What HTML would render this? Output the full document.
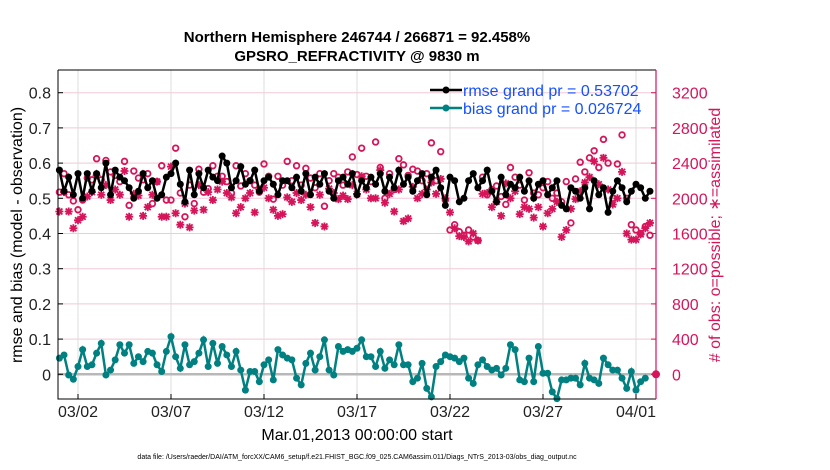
<!DOCTYPE html>
<html><head><meta charset="utf-8">
<style>
body{margin:0;background:#fff;}
svg{display:block;font-family:"Liberation Sans",sans-serif;}
</style></head>
<body>
<svg id="chart" width="830" height="470" viewBox="0 0 830 470" xmlns="http://www.w3.org/2000/svg">
<g id="grid"></g>
<g id="series"></g>
<g id="axes"></g>
<text x="357" y="42" text-anchor="middle" font-size="15" font-weight="bold">Northern Hemisphere 246744 / 266871 = 92.458%</text>
<text x="357" y="61" text-anchor="middle" font-size="15" font-weight="bold">GPSRO_REFRACTIVITY @ 9830 m</text>
<text transform="translate(22,235) rotate(-90)" text-anchor="middle" font-size="16">rmse and bias (model - observation)</text>
<text transform="translate(720,235) rotate(-90)" text-anchor="middle" font-size="16" fill="#d6145a"># of obs: o=possible; ∗=assimilated</text>
<text x="357" y="440" text-anchor="middle" font-size="16">Mar.01,2013 00:00:00 start</text>
<text x="357" y="459" text-anchor="middle" font-size="7">data file: /Users/raeder/DAI/ATM_forcXX/CAM6_setup/f.e21.FHIST_BGC.f09_025.CAM6assim.011/Diags_NTrS_2013-03/obs_diag_output.nc</text>
<g>
<line x1="430" y1="90" x2="462" y2="90" stroke="#000" stroke-width="2.5"/>
<circle cx="446" cy="90" r="3.5" fill="#000"/>
<text x="463" y="96" font-size="16" fill="#1450ff">rmse grand pr = 0.53702</text>
<line x1="430" y1="108" x2="462" y2="108" stroke="#008080" stroke-width="2.5"/>
<circle cx="446" cy="108" r="3.5" fill="#008080"/>
<text x="463" y="114" font-size="16" fill="#1450ff">bias grand pr = 0.026724</text>
</g>
</svg>
<script>
const rmse=[0.58,0.52,0.56,0.51,0.57,0.50,0.57,0.52,0.57,0.53,0.60,0.51,0.58,0.56,0.55,0.53,0.50,0.52,0.57,0.53,0.55,0.50,0.51,0.56,0.57,0.60,0.54,0.49,0.58,0.51,0.57,0.53,0.58,0.56,0.55,0.62,0.60,0.53,0.55,0.59,0.54,0.55,0.58,0.52,0.55,
0.56,0.54,0.51,0.55,0.55,0.53,0.56,0.52,0.57,0.51,0.56,0.54,0.57,0.52,0.50,0.55,0.56,0.54,0.57,0.51,0.55,0.53,0.56,0.54,0.57,0.52,0.56,0.53,0.58,0.54,0.56,0.52,0.55,0.57,0.51,0.56,0.58,0.53,0.48,0.56,0.55,0.49,0.50,0.55,0.57,0.53,
0.55,0.58,0.52,0.49,0.56,0.51,0.54,0.53,0.56,0.52,0.55,0.50,0.54,0.55,0.51,0.53,0.55,0.48,0.47,0.53,0.52,0.50,0.53,0.47,0.55,0.51,0.53,0.46,0.52,0.55,0.53,0.49,0.52,0.54,0.53,0.50,0.52];
const bias=[0.046,0.055,-0.002,-0.014,0.022,0.070,0.022,0.027,0.060,0.088,-0.002,0.012,0.041,0.084,0.060,0.084,0.031,0.050,0.036,0.065,0.060,0.027,0.008,0.065,0.107,0.050,0.017,0.084,0.027,0.036,0.060,0.098,0.022,0.088,0.031,0.079,0.055,0.022,0.065,0.012,-0.045,0.008,0.008,-0.021,0.027,0.041,-0.016,0.070,0.055,0.046,0.041,-0.011,-0.030,0.031,0.060,0.012,0.050,0.098,0.012,-0.002,0.079,0.065,0.070,
0.065,0.074,0.098,0.050,0.050,0.022,0.065,0.017,0.041,0.027,0.084,0.027,0.027,-0.021,-0.011,0.031,-0.040,-0.064,0.022,0.036,0.055,0.050,0.046,0.036,0.046,-0.011,-0.026,0.027,0.041,0.022,0.012,0.017,-0.002,0.017,0.084,0.070,-0.016,-0.021,0.046,-0.021,0.079,0.003,0.003,-0.050,-0.069,-0.016,-0.016,-0.011,-0.011,-0.030,0.031,-0.011,-0.016,-0.026,0.046,0.027,0.012,0.012,-0.011,-0.040,0.008,-0.045,-0.021,-0.011];
const possible=[2070,2280,2040,1970,1870,1980,2230,2210,2450,2210,2430,2300,2260,2190,2420,1920,2310,2230,2210,2280,1940,2190,2370,1980,1980,2570,2060,1790,2150,1940,2330,2070,2110,2370,2250,2250,2190,2060,2370,2140,2280,2200,2150,2070,2390,
2250,1990,2250,2150,2420,2200,2370,2150,2340,2230,2120,2280,1910,2200,2280,2240,2150,2300,2470,2270,2570,2250,2190,2640,2350,2000,2280,2100,2450,2380,2260,2330,2310,2200,2280,2630,2200,2530,1980,1640,1700,1620,1580,1640,1560,1520,
2240,2040,2100,2140,2020,1930,2350,2240,2150,1980,2290,2060,2040,2120,2190,2000,2060,1960,2190,1720,2220,2410,2300,2460,2540,2350,2670,2400,2000,2390,2720,2000,1700,1640,1600,1680,1580];
const assimilated=[1850,2070,1850,1660,1750,1790,2020,2070,2260,2040,2150,1980,2100,2040,2310,1790,2050,2030,1800,1900,2040,2190,1790,1790,2360,1830,1700,1940,1670,1860,2150,1870,2070,1980,2100,2190,2060,2010,1830,1900,2000,2060,1840,2100,2120,
2000,1870,1800,1820,2010,1960,2060,1980,2040,1900,1720,2040,1680,2110,2060,1990,2030,1990,2150,2050,2250,2100,2000,2000,2320,1950,2050,1850,2100,1740,1770,2130,2000,2050,2100,2180,2050,2220,2000,1840,1660,1570,1560,1510,1600,1520,
2050,2060,1900,1960,1800,2170,2000,2080,1820,1900,1880,1780,1900,1680,1830,1880,1960,1560,1640,1880,1990,2080,2180,2240,2420,2160,2460,2100,1930,2000,2300,1600,1530,1530,1590,1660,1720];
const finalObs=[0];
const leftTicks=[0,0.1,0.2,0.3,0.4,0.5,0.6,0.7,0.8];
const rightTicks=[0,400,800,1200,1600,2000,2400,2800,3200];
const dateTicks=[1,6,11,16,21,26,31];
const dateLabels=["03/02","03/07","03/12","03/17","03/22","03/27","04/01"];

const NS="http://www.w3.org/2000/svg";
const L=58,R=656,T=70,B=399;
const xDay=d=>59.4+18.6*d;
const yL=v=>374.3-v*352;
const yR=c=>374.3-c*352/4000;
const RED="#d6145a";
function mk(tag,attrs,parent){const e=document.createElementNS(NS,tag);for(const k in attrs)e.setAttribute(k,attrs[k]);parent.appendChild(e);return e;}
const grid=document.getElementById('grid'),ser=document.getElementById('series'),ax=document.getElementById('axes');

rightTicks.forEach(c=>{const g=mk('line',{x1:L,x2:R,y1:yR(c),y2:yR(c),stroke:'#f3c8d8','stroke-width':1},grid);

});
dateTicks.forEach(d=>{const g=mk('line',{x1:xDay(d),x2:xDay(d),y1:T,y2:B,stroke:'#dcdcdc','stroke-width':1},grid);

});
const z=mk('line',{x1:L,x2:R,y1:yL(0),y2:yL(0),stroke:'#b8b8b8','stroke-width':2.5},grid);



possible.forEach((c,i)=>{const e=mk('circle',{cx:xDay(i*0.25),cy:yR(c),r:2.8,fill:'none',stroke:RED,'stroke-width':1.8},ser);

});
assimilated.forEach((c,i)=>{const x=xDay(i*0.25),y=yR(c),s=4;
const g=mk('path',{d:`M${x-s} ${y}H${x+s}M${x} ${y-s}V${y+s}M${x-3} ${y-3}L${x+3} ${y+3}M${x-3} ${y+3}L${x+3} ${y-3}`,stroke:RED,'stroke-width':1.8},ser);

});
finalObs.forEach(c=>{const e=mk('circle',{cx:R,cy:yR(c),r:4,fill:RED},ser);

});

function drawLine(vals,color,name){
 const p=mk('polyline',{points:vals.map((v,i)=>xDay(i*0.25)+','+yL(v)).join(' '),fill:'none',stroke:color,'stroke-width':2.5},ser);
 
 
 vals.forEach((v,i)=>{const c=mk('circle',{cx:xDay(i*0.25),cy:yL(v),r:3.5,fill:color},ser);
 
 });
}
drawLine(rmse,'#000','rmse');
drawLine(bias,'#008080','bias');

const a1=mk('path',{d:`M${L} ${T}V${B}H${R}M${L} ${T}H${R}`,fill:'none',stroke:'#000','stroke-width':1},ax);


const a2=mk('line',{x1:R,x2:R,y1:T,y2:B,stroke:RED,'stroke-width':1.2},ax);


leftTicks.forEach(v=>{mk('line',{x1:L,x2:L+5,y1:yL(v),y2:yL(v),stroke:'#000'},ax);
const t=mk('text',{x:L-7,y:yL(v)+6,'text-anchor':'end','font-size':16,fill:'#222'},ax);t.textContent=v===0?'0':v.toFixed(1);

});
rightTicks.forEach(c=>{mk('line',{x1:R-5,x2:R,y1:yR(c),y2:yR(c),stroke:RED},ax);
const t=mk('text',{x:R+16,y:yR(c)+6,'font-size':16,fill:RED},ax);t.textContent=c;

});
dateTicks.forEach((d,i)=>{mk('line',{x1:xDay(d),x2:xDay(d),y1:B,y2:B-5,stroke:'#000'},ax);
const t=mk('text',{x:xDay(d),y:B+18,'text-anchor':'middle','font-size':16,fill:'#222'},ax);t.textContent=dateLabels[i];

});
</script>
</body></html>
